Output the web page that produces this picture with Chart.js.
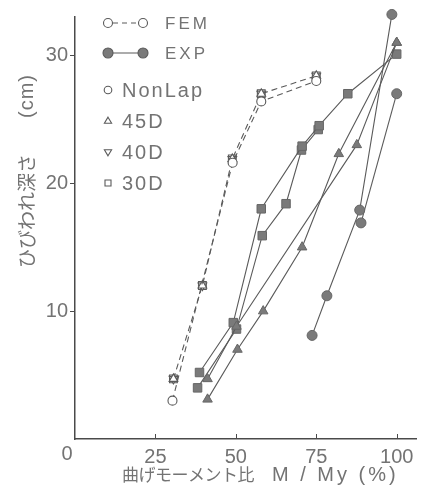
<!DOCTYPE html>
<html>
<head>
<meta charset="utf-8">
<script src="https://cdn.jsdelivr.net/npm/chart.js@4/dist/chart.umd.min.js"></script>
<style>
  html, body { margin: 0; padding: 0; background: #fff; }
  #wrap { width: 425px; height: 491px; position: relative; }
</style>
</head>
<body>
<div id="wrap"><canvas id="c"></canvas></div>
<script>
// ---- data ----
const xTickValues = [25, 50, 75, 100];
const yTickValues = [10, 20, 30];

// FEM (dashed, open markers)
const femNonLapX = [30.3, 49.0, 57.9, 75.0];
const femNonLapY = [3.0, 21.6, 26.4, 28.0];
const femLapX = [30.6, 39.6, 48.9, 57.9, 75.0];
const femLapY = [4.7, 12.0, 21.9, 27.0, 28.4];

// EXP (solid, filled markers)
const expNonLapAX = [73.7, 78.3, 88.5, 98.5];
const expNonLapAY = [8.1, 11.2, 17.9, 33.2];
const expNonLapBX = [88.9, 100];
const expNonLapBY = [16.9, 27.0];
const exp45AX = [41.2, 50.5, 58.5, 70.6, 82.0, 100];
const exp45AY = [3.1, 7.0, 10.0, 15.0, 22.3, 31.0];
const exp45BX = [41.2, 50.2, 87.6, 100];
const exp45BY = [4.7, 8.8, 23.0, 31.0];
const exp30AX = [38.7, 49.2, 57.9, 70.6, 75.9, 84.8, 100];
const exp30AY = [5.2, 9.1, 18.0, 22.9, 24.5, 27.0, 30.1];
const exp30BX = [38.1, 50.2, 58.2, 65.6, 70.4, 75.6];
const exp30BY = [4.0, 8.6, 15.9, 18.4, 22.6, 24.2];

const legendLabels = ['FEM', 'EXP', 'NonLap', '45D', '40D', '30D'];
const xTitleJa = '曲げモーメント比';
const xTitleEn = 'M / My (%)';
const yTitleJa = 'ひびわれ深さ';
const yTitleEn = '(cm)';

// ---- styling ----
const INK = '#5a5a5a';
const TEXT = '#737373';
const FILL = '#7a7a7a';
const AXIS = '#4a4a4a';

function pts(xs, ys) { return xs.map((x, i) => ({ x: x, y: ys[i] })); }

function femSet(label, xs, ys, style, rot, line, r) {
  return {
    label, data: pts(xs, ys), showLine: line, clip: false,
    borderColor: INK, borderWidth: 1.1, borderDash: [6, 4],
    pointStyle: style, rotation: rot || 0, pointRadius: r,
    pointBackgroundColor: '#fff', pointBorderColor: INK, pointBorderWidth: 1.1,
    order: 1
  };
}
function expSet(label, xs, ys, style, r) {
  return {
    label, data: pts(xs, ys), showLine: true, clip: false,
    borderColor: INK, borderWidth: 1.1,
    pointStyle: style, pointRadius: r,
    pointBackgroundColor: FILL, pointBorderColor: '#666', pointBorderWidth: 1,
    order: 2
  };
}

const datasets = [
  femSet('FEM NonLap', femNonLapX, femNonLapY, 'circle', 0, true, 4.5),
  femSet('FEM 45D', femLapX, femLapY, 'triangle', 0, true, 5),
  femSet('FEM 40D', femLapX, femLapY, 'triangle', 180, false, 5),
  femSet('FEM 30D', femLapX, femLapY, 'rect', 0, false, 5.5),
  expSet('EXP NonLap a', expNonLapAX, expNonLapAY, 'circle', 5),
  expSet('EXP NonLap b', expNonLapBX, expNonLapBY, 'circle', 5),
  expSet('EXP 45D a', exp45AX, exp45AY, 'triangle', 5.5),
  expSet('EXP 45D b', exp45BX, exp45BY, 'triangle', 5.5),
  expSet('EXP 30D a', exp30AX, exp30AY, 'rect', 6),
  expSet('EXP 30D b', exp30BX, exp30BY, 'rect', 6)
];

function drawMarker(ctx, kind, x, y, r, filled) {
  ctx.beginPath();
  if (kind === 'circle') {
    ctx.arc(x, y, r, 0, Math.PI * 2);
  } else if (kind === 'tri') {
    ctx.moveTo(x, y - r); ctx.lineTo(x + r * 0.95, y + r * 0.6); ctx.lineTo(x - r * 0.95, y + r * 0.6); ctx.closePath();
  } else if (kind === 'itri') {
    ctx.moveTo(x, y + r); ctx.lineTo(x + r * 0.95, y - r * 0.6); ctx.lineTo(x - r * 0.95, y - r * 0.6); ctx.closePath();
  } else if (kind === 'rect') {
    ctx.rect(x - r, y - r, 2 * r, 2 * r);
  }
  if (filled) { ctx.fillStyle = FILL; ctx.fill(); }
  ctx.strokeStyle = INK; ctx.lineWidth = 1.1; ctx.stroke();
}

const overlay = {
  id: 'overlay',
  afterDraw(chart) {
    const ctx = chart.ctx, xs = chart.scales.x, ys = chart.scales.y;
    ctx.save();
    // inward x tick marks
    ctx.strokeStyle = AXIS; ctx.lineWidth = 1;
    xTickValues.forEach(v => {
      const px = Math.round(xs.getPixelForValue(v)) + 0.5;
      ctx.beginPath(); ctx.moveTo(px, ys.bottom); ctx.lineTo(px, ys.bottom - 5); ctx.stroke();
    });
    // origin label
    ctx.fillStyle = TEXT; ctx.textBaseline = 'middle'; ctx.textAlign = 'center';
    ctx.font = '20px "Liberation Sans", sans-serif';
    ctx.fillText('0', xs.getPixelForValue(0) - 8, ys.bottom + 15);
    // x title
    ctx.textAlign = 'left';
    ctx.font = '17px "Noto Sans CJK JP", sans-serif';
    ctx.letterSpacing = '-0.5px';
    ctx.fillText(xTitleJa, 122, 475);
    ctx.font = '20px "Liberation Sans", sans-serif';
    ctx.letterSpacing = '3px';
    ctx.fillText(xTitleEn, 272, 475);
    ctx.letterSpacing = '0px';
    // y title (rotated)
    ctx.save();
    ctx.translate(27, 268);
    ctx.rotate(-Math.PI / 2);
    ctx.textAlign = 'left';
    ctx.font = '19px "Noto Sans CJK JP", sans-serif';
    ctx.fillText(yTitleJa, 0, 0);
    ctx.font = '20px "Liberation Sans", sans-serif';
    ctx.letterSpacing = '1px';
    ctx.fillText(yTitleEn, 150, 0);
    ctx.letterSpacing = '0px';
    ctx.restore();
    // legend
    const lx = 108;
    ctx.lineWidth = 1.1; ctx.strokeStyle = INK;
    // FEM row
    ctx.setLineDash([5, 4]);
    ctx.beginPath(); ctx.moveTo(lx + 5, 23); ctx.lineTo(143 - 5, 23); ctx.stroke();
    ctx.setLineDash([]);
    drawMarker(ctx, 'circle', lx, 23, 4.5, false);
    drawMarker(ctx, 'circle', 143, 23, 4.5, false);
    // EXP row
    ctx.beginPath(); ctx.moveTo(lx, 53); ctx.lineTo(143, 53); ctx.stroke();
    drawMarker(ctx, 'circle', lx, 53, 5, true);
    drawMarker(ctx, 'circle', 143, 53, 5, true);
    ctx.fillStyle = TEXT; ctx.textAlign = 'left'; ctx.textBaseline = 'middle';
    ctx.font = '17px "Liberation Sans", sans-serif';
    ctx.letterSpacing = '3px';
    ctx.fillText(legendLabels[0], 165, 24);
    ctx.fillText(legendLabels[1], 165, 54);
    ctx.letterSpacing = '2px';
    ctx.font = '20px "Liberation Sans", sans-serif';
    const rows = [[90, 'circle'], [121, 'tri'], [152, 'itri'], [183, 'rect']];
    rows.forEach((r, i) => {
      drawMarker(ctx, r[1], lx, r[0], r[1] === 'rect' ? 3 : 3.8, false);
      ctx.fillStyle = TEXT;
      ctx.fillText(legendLabels[i + 2], 122, r[0] + 1);
    });
    ctx.letterSpacing = '0px';
    ctx.restore();
  }
};

new Chart(document.getElementById('c'), {
  type: 'scatter',
  data: { datasets },
  plugins: [overlay],
  options: {
    responsive: true,
    maintainAspectRatio: false,
    animation: false,
    layout: { padding: { left: 0, top: 17, right: 9, bottom: 0 } },
    plugins: { legend: { display: false }, tooltip: { enabled: false } },
    elements: { line: { tension: 0 } },
    scales: {
      x: {
        type: 'linear', min: 0, max: 106,
        afterBuildTicks: s => { s.ticks = xTickValues.map(v => ({ value: v })); },
        afterFit: s => { s.height = 52; s.paddingLeft = 0; s.paddingRight = 0; },
        grid: { display: true, drawOnChartArea: false, drawTicks: false },
        border: { display: true, color: AXIS, width: 1.5 },
        ticks: { color: TEXT, padding: 6, font: { family: 'Liberation Sans', size: 20 }, maxRotation: 0 }
      },
      y: {
        type: 'linear', min: 0, max: 33,
        afterBuildTicks: s => { s.ticks = yTickValues.map(v => ({ value: v })); },
        afterFit: s => { s.width = 75; s.paddingTop = 0; s.paddingBottom = 0; },
        grid: { display: true, drawOnChartArea: false, drawTicks: true, tickLength: 5, color: AXIS },
        border: { display: true, color: AXIS, width: 1.5 },
        ticks: { color: TEXT, padding: 2, font: { family: 'Liberation Sans', size: 20 } }
      }
    }
  }
});
</script>
</body>
</html>
